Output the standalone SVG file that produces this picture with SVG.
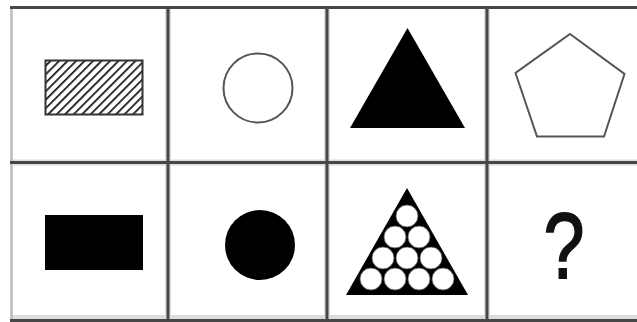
<svg xmlns="http://www.w3.org/2000/svg" width="637" height="322" viewBox="0 0 637 322">
  <defs>
    <pattern id="hatch" patternUnits="userSpaceOnUse" width="6" height="6" patternTransform="rotate(45)">
      <rect width="6" height="6" fill="#fff"/>
      <line x1="0" y1="0" x2="0" y2="6" stroke="#111" stroke-width="3.4"/>
    </pattern>
  </defs>
  <style>
    .grid { stroke: #474747; stroke-width: 3; fill: none; }
    .halo { stroke: #dcdcdc; stroke-width: 6; fill: none; }
    .outline { stroke: #555; stroke-width: 2; fill: #fff; }
    .solid { fill: #000; }
    .q { font-family: "Liberation Sans", Arial, sans-serif; font-size: 92px; fill: #111; stroke: #111; stroke-width: 1.8; }
  </style>
  <rect x="0" y="0" width="637" height="322" fill="#fff"/>
  <g id="grid">
    <line class="halo" x1="168" y1="6" x2="168" y2="322"/>
    <line class="halo" x1="327" y1="6" x2="327" y2="322"/>
    <line class="halo" x1="487" y1="6" x2="487" y2="322"/>
    <line class="halo" x1="11" y1="162.5" x2="637" y2="162.5"/>
    <line class="halo" x1="11" y1="318" x2="637" y2="318"/>
    <line x1="11.5" y1="6" x2="11.5" y2="322" stroke="#bbb" stroke-width="2.5"/>
    <line class="grid" x1="10" y1="7.5" x2="637" y2="7.5"/>
    <line class="grid" x1="10" y1="162.5" x2="637" y2="162.5"/>
    <line class="grid" x1="10" y1="320.5" x2="637" y2="320.5"/>
    <line class="grid" x1="168" y1="6" x2="168" y2="322"/>
    <line class="grid" x1="327" y1="6" x2="327" y2="322"/>
    <line class="grid" x1="487" y1="6" x2="487" y2="322"/>
  </g>
  <g id="connectors"/>
  <g id="cell-hatched-rect">
    <rect x="45.5" y="60.5" width="97" height="54" fill="url(#hatch)" stroke="#333" stroke-width="2"/>
  </g>
  <g id="cell-open-circle">
    <circle class="outline" cx="258" cy="88" r="34.5"/>
  </g>
  <g id="cell-black-triangle">
    <polygon class="solid" points="407.5,28 350,128 465,128"/>
  </g>
  <g id="cell-pentagon">
    <polygon class="outline" points="570,34 624.5,74 604,136.5 537,136.5 515.5,73"/>
  </g>
  <g id="cell-black-rect">
    <rect class="solid" x="45" y="215" width="98" height="55"/>
  </g>
  <g id="cell-black-circle">
    <circle class="solid" cx="260" cy="245" r="35"/>
  </g>
  <g id="cell-circle-triangle">
    <polygon class="solid" points="407,188 346,295 468,295"/>
    <g fill="#fff" stroke="#555" stroke-width="0.8">
      <circle cx="407" cy="216" r="11"/>
      <circle cx="395" cy="237" r="11"/>
      <circle cx="419" cy="237" r="11"/>
      <circle cx="383" cy="258" r="11"/>
      <circle cx="407" cy="258" r="11"/>
      <circle cx="431" cy="258" r="11"/>
      <circle cx="371" cy="279" r="11"/>
      <circle cx="395" cy="279" r="11"/>
      <circle cx="419" cy="279" r="11"/>
      <circle cx="443" cy="279" r="11"/>
    </g>
  </g>
  <g id="cell-question">
    <text class="q" transform="translate(564 278) scale(0.8 1)" x="0" y="0" text-anchor="middle">?</text>
  </g>
</svg>
